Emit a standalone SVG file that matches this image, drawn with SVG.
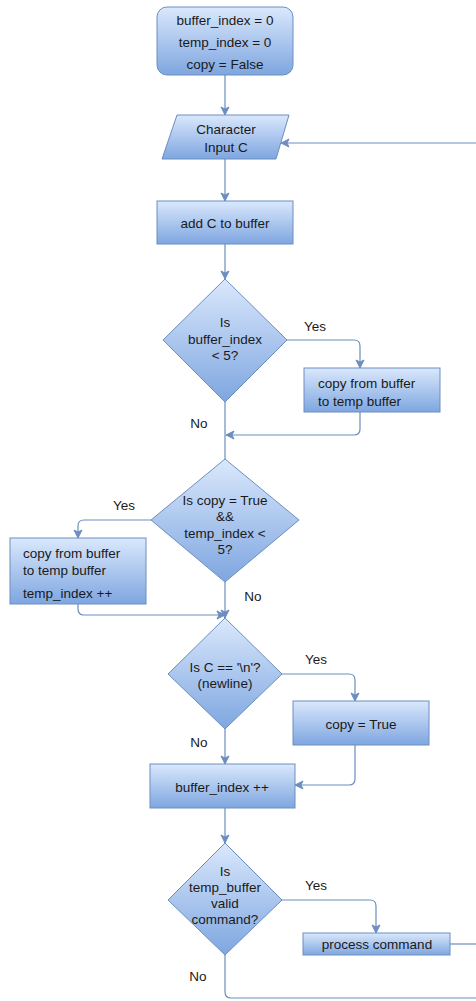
<svg xmlns="http://www.w3.org/2000/svg" width="476" height="1001" viewBox="0 0 476 1001">
  <defs>
    <linearGradient id="fillBlue" x1="0" y1="0" x2="0" y2="1">
      <stop offset="0" stop-color="#dae8fc"/>
      <stop offset="1" stop-color="#7ea6e0"/>
    </linearGradient>
    <marker id="arrow" markerWidth="10" markerHeight="10" refX="9" refY="5" orient="auto" markerUnits="userSpaceOnUse">
      <path d="M1,1 L9,5 L1,9 L3,5 Z" fill="#6c8ebf" stroke="#6c8ebf" stroke-width="1"/>
    </marker>
    <style>
      .shape { fill: url(#fillBlue); stroke: #6c8ebf; stroke-width: 1; }
      .edge { fill: none; stroke: #6c8ebf; stroke-width: 1.2; }
      .arrowed { marker-end: url(#arrow); }
      text { font-family: "Liberation Sans", Arial, sans-serif; font-size: 13.5px; fill: #1a1a1a; }
      .mid { text-anchor: middle; }
    </style>
  </defs>

  <!-- connectors -->
  <g id="connectors">
    <path class="edge arrowed" d="M225,75 V115"/>
    <path class="edge arrowed" d="M225,159 V201"/>
    <path class="edge arrowed" d="M225,244 V279"/>
    <path class="edge arrowed" d="M287,340 H354 Q360,340 360,346 V368"/>
    <path class="edge arrowed" d="M360,412 V429 Q360,435 354,435 H226"/>
    <path class="edge" d="M225,402 V459"/>
    <path class="edge arrowed" d="M151,520 H84 Q78,520 78,526 V538"/>
    <path class="edge arrowed" d="M78,604 V609 Q78,615 84,615 H225"/>
    <path class="edge arrowed" d="M225,582 V618"/>
    <path class="edge arrowed" d="M282,674 H349 Q355,674 355,680 V701"/>
    <path class="edge arrowed" d="M355,745 V779 Q355,785 349,785 H295"/>
    <path class="edge arrowed" d="M225,728 V764"/>
    <path class="edge arrowed" d="M225,808 V843"/>
    <path class="edge arrowed" d="M282,900 H370 Q376,900 376,906 V933"/>
    <path class="edge" d="M450,944 H476"/>
    <path class="edge" d="M225,955 V992 Q225,998 231,998 H476"/>
    <path class="edge arrowed" d="M476,143 H281"/>
  </g>

  <!-- edge labels -->
  <g id="edge-labels">
    <text class="mid" x="315" y="331">Yes</text>
    <text class="mid" x="199" y="428">No</text>
    <text class="mid" x="124" y="510">Yes</text>
    <text class="mid" x="253" y="601">No</text>
    <text class="mid" x="316" y="664">Yes</text>
    <text class="mid" x="199" y="747">No</text>
    <text class="mid" x="316" y="890">Yes</text>
    <text class="mid" x="198" y="981">No</text>
  </g>

  <!-- init -->
  <g id="init">
    <rect class="shape" x="157" y="7" width="136" height="68" rx="10" ry="10"/>
    <text class="mid" x="225" y="25">buffer_index = 0</text>
    <text class="mid" x="225" y="47">temp_index = 0</text>
    <text class="mid" x="225" y="69">copy = False</text>
  </g>

  <!-- input -->
  <g id="input-c">
    <path class="shape" d="M177,115 H289 L276,159 H162 Z"/>
    <text class="mid" x="226" y="134">Character</text>
    <text class="mid" x="226" y="152">Input C</text>
  </g>

  <g id="add-to-buffer">
    <rect class="shape" x="157" y="201" width="136" height="43"/>
    <text class="mid" x="225" y="228">add C to buffer</text>
  </g>

  <g id="check-buffer-index">
    <path class="shape" d="M225,279 L287,340 L225,402 L163,340 Z"/>
    <text class="mid" x="225" y="327">Is</text>
    <text class="mid" x="225" y="344">buffer_index</text>
    <text class="mid" x="225" y="360">&lt; 5?</text>
  </g>

  <g id="copy-to-temp-1">
    <rect class="shape" x="304" y="368" width="136" height="44"/>
    <text x="318" y="388">copy from buffer</text>
    <text x="318" y="406">to temp buffer</text>
  </g>

  <g id="check-copy">
    <path class="shape" d="M225,459 L299,520 L225,582 L151,520 Z"/>
    <text class="mid" x="225" y="505">Is copy = True</text>
    <text class="mid" x="225" y="521">&amp;&amp;</text>
    <text class="mid" x="225" y="538">temp_index &lt;</text>
    <text class="mid" x="225" y="554">5?</text>
  </g>

  <g id="copy-to-temp-2">
    <rect class="shape" x="10" y="538" width="136" height="66"/>
    <text x="23" y="558">copy from buffer</text>
    <text x="23" y="575">to temp buffer</text>
    <text x="23" y="598">temp_index ++</text>
  </g>

  <g id="check-newline">
    <path class="shape" d="M225,618 L282,674 L225,729 L168,674 Z"/>
    <text class="mid" x="225" y="672">Is C == '\n'?</text>
    <text class="mid" x="225" y="688">(newline)</text>
  </g>

  <g id="set-copy">
    <rect class="shape" x="293" y="701" width="136" height="44"/>
    <text class="mid" x="361" y="729">copy = True</text>
  </g>

  <g id="inc-buffer-index">
    <rect class="shape" x="150" y="764" width="145" height="44"/>
    <text class="mid" x="222" y="792">buffer_index ++</text>
  </g>

  <g id="check-command">
    <path class="shape" d="M225,843 L282,900 L225,955 L168,900 Z"/>
    <text class="mid" x="225" y="876">Is</text>
    <text class="mid" x="225" y="892">temp_buffer</text>
    <text class="mid" x="225" y="908">valid</text>
    <text class="mid" x="225" y="924">command?</text>
  </g>

  <g id="process-command">
    <rect class="shape" x="303" y="933" width="147" height="22"/>
    <text class="mid" x="377" y="949">process command</text>
  </g>
</svg>
